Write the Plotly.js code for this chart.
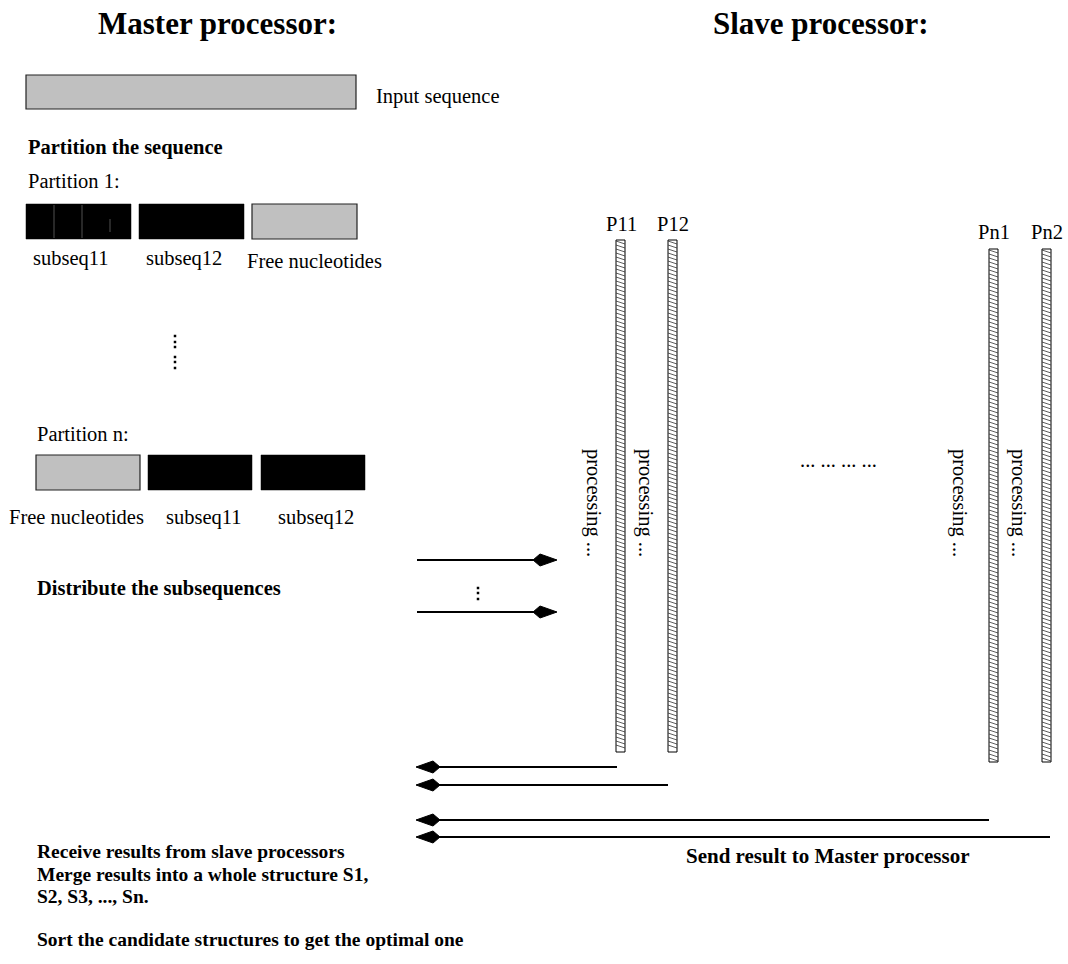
<!DOCTYPE html>
<html>
<head>
<meta charset="utf-8">
<script src="https://cdn.plot.ly/plotly-3.0.1.min.js"></script>
<style>html,body{margin:0;padding:0;background:#fff;}#chart{width:1068px;height:964px;}</style>
</head>
<body>
<div id="chart"></div>
<script>
// ---- content ----
const headings = ["Master processor:", "Slave processor:"];
const inputLabel = "Input sequence";
const partitionTitles = ["Partition 1:", "Partition n:"];
const partition1Segments = ["subseq11", "subseq12", "Free nucleotides"];
const partition1Kinds = ["sub", "sub", "free"];
const partitionNSegments = ["Free nucleotides", "subseq11", "subseq12"];
const partitionNKinds = ["free", "sub", "sub"];
const processors = ["P11", "P12", "Pn1", "Pn2"];
const processingLabel = "processing ...";
const steps = ["Partition the sequence", "Distribute the subsequences"];
const sendLabel = "Send result to Master processor";
const finalNotes = ["Receive results from slave processors",
                    "Merge results into a whole structure S1,",
                    "S2, S3, ..., Sn.",
                    "Sort the candidate structures to get the optimal one"];

// ---- layout geometry (pixel space) ----
const FONT = "Liberation Serif, Times New Roman, serif";
const shapes = [];
const ann = [];
function txt(t, x, y, size, opts) {
  ann.push(Object.assign({text: t, x: x, y: y, xref: "x", yref: "y", showarrow: false,
    xanchor: "center", yanchor: "middle", font: {family: FONT, size: size, color: "#000"}}, opts || {}));
}
function rect(x0, y0, x1, y1, fill, lineColor, lw) {
  shapes.push({type: "rect", xref: "x", yref: "y", x0: x0, y0: y0, x1: x1, y1: y1,
    fillcolor: fill, line: {color: lineColor, width: lw}});
}
function seg(x0, y0, x1, y1, color, w) {
  shapes.push({type: "line", xref: "x", yref: "y", x0: x0, y0: y0, x1: x1, y1: y1,
    line: {color: color, width: w}});
}
function path(p, fill, color, w) {
  shapes.push({type: "path", xref: "x", yref: "y", path: p, fillcolor: fill,
    line: {color: color, width: w}});
}
function arrow(xFrom, xTip, y) {
  const dir = xTip > xFrom ? 1 : -1;
  const back = xTip - dir * 24, wide = xTip - dir * 17;
  seg(xFrom, y, back + dir * 4, y, "#000", 2);
  path(`M${xTip},${y} L${wide},${y - 6} L${back},${y} L${wide},${y + 6} Z`, "#000", "#000", 1);
}

// headings
txt("<b>" + headings[0] + "</b>", 217, 23, 31);
txt("<b>" + headings[1] + "</b>", 821, 23, 31);

// input sequence
rect(26, 75, 356, 109, "#c0c0c0", "#222", 1.2);
txt(inputLabel, 374, 96, 20.5, {xanchor: "left"});

// partition step title
txt("<b>" + steps[0] + "</b>", 26, 147, 20.5, {xanchor: "left"});
txt(partitionTitles[0], 26, 181, 20.5, {xanchor: "left"});

// partition 1 blocks
const p1x = [[26, 131], [139, 244], [252, 357]];
const p1c = [71, 184, 314];
partition1Segments.forEach((s, i) => {
  const k = partition1Kinds[i];
  if (k === "sub") rect(p1x[i][0], 204, p1x[i][1], 239, "#000", "#000", 0.5);
  else rect(p1x[i][0], 204, p1x[i][1], 239, "#c0c0c0", "#222", 1.2);
  txt(s, p1c[i], k === "free" ? 261 : 258, 20.5);
});
seg(54, 205, 54, 238, "#666", 0.8);
seg(82, 205, 82, 238, "#666", 0.8);
seg(110, 219, 110, 232, "#666", 0.8);

// vertical ellipsis
const dots = {x: [], y: []};
[336, 342, 347, 357, 362, 368].forEach(v => { dots.x.push(175); dots.y.push(v); });
[588, 593, 599].forEach(v => { dots.x.push(478); dots.y.push(v); });

// partition n
txt(partitionTitles[1], 35, 434, 20.5, {xanchor: "left"});
const pnx = [[36, 140], [148, 252], [261, 365]];
const pnc = [76, 204, 316];
partitionNSegments.forEach((s, i) => {
  const k = partitionNKinds[i];
  if (k === "sub") rect(pnx[i][0], 455, pnx[i][1], 490, "#000", "#000", 0.5);
  else rect(pnx[i][0], 455, pnx[i][1], 490, "#c0c0c0", "#222", 1.2);
  txt(s, pnc[i], 517, 20.5);
});

// distribute
txt("<b>" + steps[1] + "</b>", 35, 588, 20.5, {xanchor: "left"});
arrow(417, 557, 560);
arrow(417, 557, 612);

// processors
const barX = [616, 668, 989, 1042];
const barTop = [240, 240, 249, 249];
const barBot = [752, 752, 762, 762];
const labY = [224, 224, 232, 232];
const procTextX = [594, 646, 960, 1019];
processors.forEach((p, i) => {
  const x0 = barX[i], x1 = barX[i] + 9;
  rect(x0, barTop[i], x1, barBot[i], "#fff", "#000", 1);
  let hp = "";
  for (let y = barTop[i] + 1; y <= barBot[i] - 4; y += 4) hp += `M${x0},${y} L${x1},${y + 3} `;
  path(hp, "rgba(0,0,0,0)", "#333", 0.8);
  txt(p, x0 + 5, labY[i], 20.5);
  txt(processingLabel, procTextX[i], 503, 20.5, {textangle: 90});
});
txt("... ... ... ...", 838, 460, 20.5);

// return arrows
const retY = [767, 785, 820, 837];
const retFrom = [617, 668, 989, 1050];
retY.forEach((y, i) => arrow(retFrom[i], 416, y));
txt("<b>" + sendLabel + "</b>", 827, 856, 21);

// final notes
const noteY = [851, 874, 896, 939];
finalNotes.forEach((n, i) => txt("<b>" + n + "</b>", 35, noteY[i], 19.5, {xanchor: "left"}));

const data = [{type: "scatter", mode: "markers", x: dots.x, y: dots.y,
  marker: {symbol: "square", size: 2.5, color: "#000"}, hoverinfo: "skip", showlegend: false}];

const layout = {
  width: 1068, height: 964, margin: {l: 0, r: 0, t: 0, b: 0},
  paper_bgcolor: "#fff", plot_bgcolor: "#fff", showlegend: false,
  xaxis: {range: [0, 1068], visible: false, fixedrange: true},
  yaxis: {range: [964, 0], visible: false, fixedrange: true},
  shapes: shapes, annotations: ann
};
Plotly.newPlot("chart", data, layout, {staticPlot: true, displayModeBar: false});
</script>
</body>
</html>
